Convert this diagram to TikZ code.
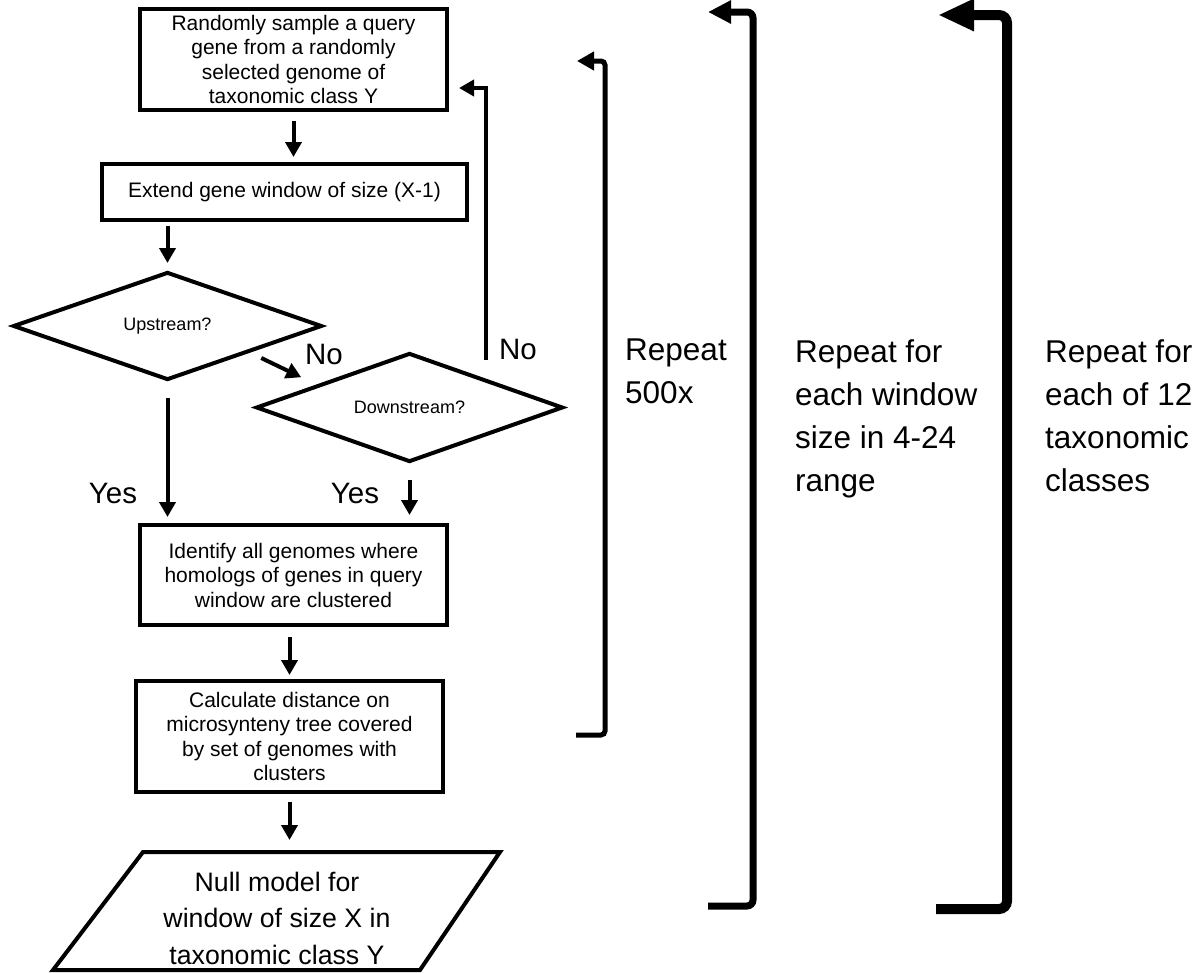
\documentclass[tikz,border=0pt]{standalone}
\usepackage{fontspec}
\setmainfont{Liberation Sans}
\usetikzlibrary{shapes.geometric,arrows.meta,calc}
\begin{document}
\begin{tikzpicture}[x=1pt,y=-1pt,
  boxnode/.style={draw,line width=4pt,inner sep=0pt,align=center,font=\fontsize{21}{24.5}\selectfont},
  decnode/.style={draw,diamond,line width=4pt,inner sep=0pt,aspect=2.85,font=\fontsize{18}{21}\selectfont},
  arr/.style={line width=4pt,-{Triangle[length=15pt,width=16pt]}},
  lbl/.style={inner sep=0pt,font=\fontsize{29.5}{34}\selectfont},
  rep/.style={inner sep=0pt,anchor=north west,align=left,font=\fontsize{31.5}{43}\selectfont},
  brk/.style={line cap=butt},
  ]
\useasboundingbox (0,0) rectangle (1198,972);

\node[boxnode,minimum width=307pt,minimum height=101pt] (b1) at (293.5,59.5)
  {Randomly sample a query\\gene from a randomly\\selected genome of\\taxonomic class Y};
\node[boxnode,minimum width=365pt,minimum height=56pt] (b2) at (284.5,192)
  {Extend gene window of size (X-1)};
\node[decnode,minimum width=309pt,minimum height=108pt] (up) at (167.5,326) {Upstream?};
\node[decnode,minimum width=307pt,minimum height=109pt] (dn) at (409.5,407.5) {Downstream?};
\node[boxnode,minimum width=307pt,minimum height=100pt] (b3) at (293.5,575)
  {Identify all genomes where\\homologs of genes in query\\window are clustered};
\node[boxnode,minimum width=307pt,minimum height=111pt] (b4) at (289.5,736.5)
  {Calculate distance on\\microsynteny tree covered\\by set of genomes with\\clusters};
\node[inner sep=0pt,align=center,font=\fontsize{26.7}{36.5}\selectfont] (nm) at (277,918)
  {Null model for\\window of size X in\\taxonomic class Y};
\draw[line width=4pt,line join=miter] ($(nm)+(-134,-66)$) -- ($(nm)+(223,-66)$)
  -- ($(nm)+(143,52)$) -- ($(nm)+(-224,52)$) -- cycle;
\coordinate (ptop) at ($(nm)+(10,-66)$);

% flow arrows
\draw[arr,shorten <=9pt,shorten >=5pt] (b1.south) -- (b1.south |- b2.north);
\draw[arr,shorten <=4pt,shorten >=7pt] (up.north |- b2.south) -- (up.north);
\draw[arr,shorten <=16pt,shorten >=6pt] (up.south) -- (up.south |- b3.north);
\draw[arr,shorten <=16pt,shorten >=8pt] (dn.south) -- (dn.south |- b3.north);
\draw[arr,shorten <=10pt,shorten >=4pt] (b4.north |- b3.south) -- (b4.north);
\draw[arr,shorten <=8pt,shorten >=12pt] (b4.south) -- (b4.south |- ptop);
\draw[arr] ($(up.south east)+(15.5,4)$) -- ($(dn.north west)+(-30.5,-2)$);
\coordinate (fb) at (486,360);
\draw[arr,shorten >=10pt] (fb) |- ([yshift=-28.5pt]b1.east);

% labels
\node[lbl] (no1) at (324,354) {No};
\node[lbl] (no2) at (518,349) {No};
\node[lbl] (yes1) at (113,493) {Yes};
\node[lbl] (yes2) at (355,493) {Yes};

% brackets
\coordinate (r1b) at (576,735);
\coordinate (r1c) at (605,61);
\coordinate (r1t) at (577,61);
\draw[brk,line width=5pt,rounded corners=4pt,-{Triangle[length=17pt,width=18pt]}]
  (r1b) -| (r1c) -- (r1t);
\coordinate (r2b) at (708,906);
\coordinate (r2c) at (753,12);
\coordinate (r2t) at (708,12);
\draw[brk,line width=7pt,rounded corners=6pt,-{Triangle[length=23pt,width=22pt]}]
  (r2b) -| (r2c) -- (r2t);
\coordinate (r3b) at (936,909);
\coordinate (r3c) at (1007,15);
\coordinate (r3t) at (938,15);
\draw[brk,line width=10pt,rounded corners=8pt,-{Triangle[length=36pt,width=30pt]}]
  (r3b) -| (r3c) -- (r3t);

\node[rep] (rep1) at (625,339) {Repeat\\500x};
\node[rep] (rep2) at (795,339) {Repeat for\\each window\\size in 4-24\\range};
\node[rep] (rep3) at (1045,339) {Repeat for\\each of 12\\taxonomic\\classes};
\end{tikzpicture}
\end{document}
